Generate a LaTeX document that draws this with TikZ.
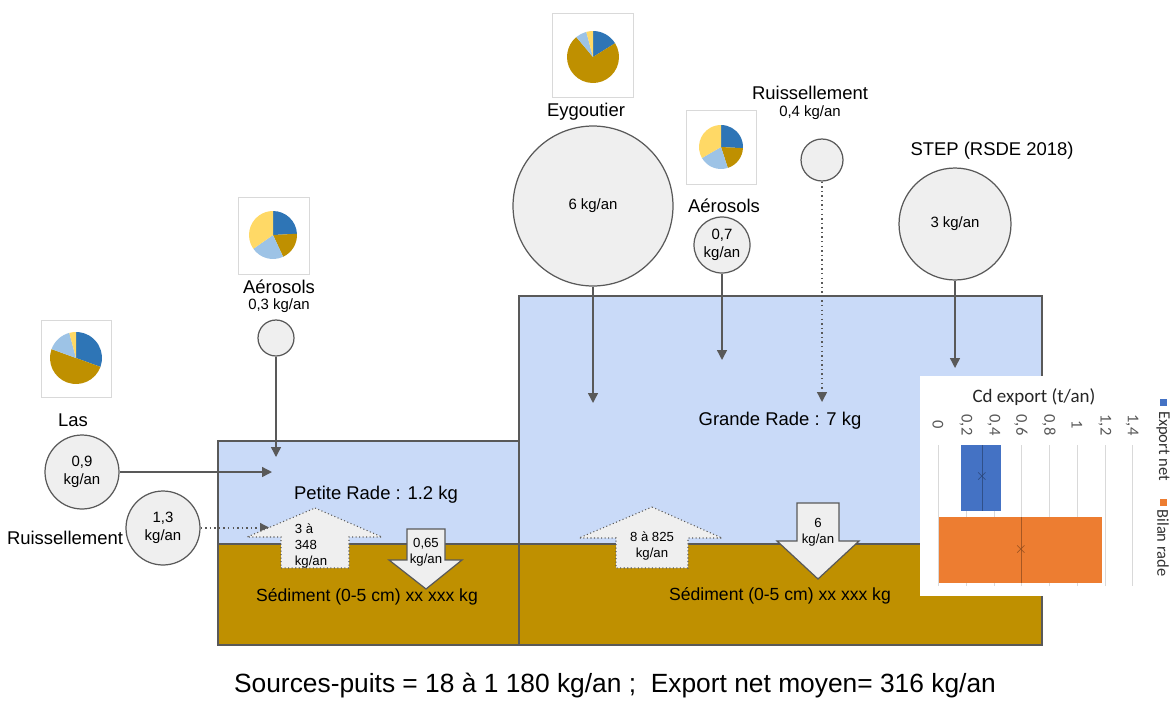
\documentclass[tikz,border=0pt]{standalone}
\usepackage{fontspec}
\setmainfont{Liberation Sans}
\newfontfamily\chartfont{Carlito}
\usetikzlibrary{arrows.meta, positioning}
\definecolor{mWater}{HTML}{C9DAF8}
\definecolor{mSediment}{HTML}{BF9000}
\definecolor{mBubble}{HTML}{EFEFEF}
\definecolor{mLine}{HTML}{595959}
\definecolor{mFrame}{HTML}{D9D9D9}
\definecolor{mPieBlue}{HTML}{2E75B6}
\definecolor{mPieLight}{HTML}{9DC3E6}
\definecolor{mPieYellow}{HTML}{FFD966}
\definecolor{mBarBlue}{HTML}{4472C4}
\definecolor{mBarOrange}{HTML}{ED7D31}
\definecolor{mGrid}{HTML}{D9D9D9}

% pie: centre, radius (cm), then the clockwise limits of the blue, gold and light slices
\newcommand{\drawpie}[5]{%
  \begin{scope}[shift={#1}]
    \fill[mPieBlue]   (0,0) -- (90:#2cm) arc[start angle=90, end angle=#3, radius=#2cm] -- cycle;
    \fill[mSediment]  (0,0) -- (#3:#2cm) arc[start angle=#3, end angle=#4, radius=#2cm] -- cycle;
    \fill[mPieLight]  (0,0) -- (#4:#2cm) arc[start angle=#4, end angle=#5, radius=#2cm] -- cycle;
    \fill[mPieYellow] (0,0) -- (#5:#2cm) arc[start angle=#5, end angle=-270, radius=#2cm] -- cycle;
  \end{scope}}

\tikzset{
  lab/.style={font=\fontsize{10.5}{12.5}\selectfont},
  sublab/.style={font=\fontsize{8.5}{10}\selectfont},
  bubble/.style={circle, draw=mLine, fill=mBubble, line width=0.7pt, inner sep=0pt,
    align=center, font=\fontsize{8.5}{10}\selectfont},
  flow/.style={draw=mLine, line width=0.8pt, -{Triangle[length=2mm,width=2mm]}},
  dotflow/.style={flow, dash pattern=on 0.8pt off 1.8pt},
  blockup/.style={fill=mBubble, draw=mLine, line width=0.6pt, dash pattern=on 0.6pt off 1.4pt},
  blockdown/.style={fill=mBubble, draw=mLine, line width=0.7pt},
  blocktext/.style={align=center, inner sep=0pt, font=\fontsize{7.5}{9}\selectfont},
  pieframe/.style={draw=mFrame, fill=white, line width=0.5pt},
  axislab/.style={rotate=-90, text=mLine, font=\chartfont\fontsize{9.4}{11}\selectfont}
}

\begin{document}
\begin{tikzpicture}[x=0.02cm, y=-0.02cm]
  \useasboundingbox (0,0) rectangle (1172,700);

  % water and sediment
  \fill[mWater]    (218,441) rectangle (519,544);
  \fill[mWater]    (519,296) rectangle (1042,544);
  \fill[mSediment] (218,544) rectangle (1042,645);
  \draw[mLine, line width=0.6pt] (218,544) -- (1042,544);
  \draw[mLine, line width=0.8pt] (218,441) rectangle (519,645);
  \draw[mLine, line width=0.8pt] (519,296) rectangle (1042,645);

  % pies
  \draw[pieframe] (41,320) rectangle (111,397);
  \drawpie{(76,358)}{0.52}{-20}{-200}{-255}
  \draw[pieframe] (238,197) rectangle (309,274);
  \drawpie{(273,235)}{0.48}{3}{-65}{-145}
  \draw[pieframe] (552,13) rectangle (633,97);
  \drawpie{(593,57)}{0.52}{32}{-230}{-255}
  \draw[pieframe] (686,110) rectangle (756,184);
  \drawpie{(721,147)}{0.44}{-3}{-72}{-150}

  % sources
  \node[lab] (laslab) at (73,420) {Las};
  \node[bubble, minimum size=1.48cm] (las) at (82,472) {0,9\\kg/an};
  \node[lab] (ruislab) at (65,538) {Ruissellement};
  \node[bubble, minimum size=1.48cm] (ruis) at (163,528) {1,3\\kg/an};
  \node[lab] (aerolab) at (279,287) {Aérosols};
  \node[sublab] (aerosub) at (279,306) {0,3 kg/an};
  \node[bubble, minimum size=0.72cm] (aero) at (276,338) {};
  \node[lab] (eyglab) at (586,112) {Eygoutier};
  \node[bubble, minimum size=3.2cm] (eyg) at (593,206) {6 kg/an};
  \node[lab] (aerglab) at (724,206) {Aérosols};
  \node[bubble, minimum size=1.12cm] (aerg) at (722,245) {0,7\\kg/an};
  \node[lab] (ruisglab) at (810,93) {Ruissellement};
  \node[sublab] (ruisgsub) at (810,113) {0,4 kg/an};
  \node[bubble, minimum size=0.84cm] (ruisg) at (822,160) {};
  \node[lab] (steplab) at (992,151) {STEP (RSDE 2018)};
  \node[bubble, minimum size=2.24cm] (step) at (955,224) {3 kg/an};

  % inputs
  \coordinate (lasin)   at (272,472);
  \coordinate (ruisin)  at (270,528);
  \coordinate (aeroin)  at (276,457);
  \coordinate (eygin)   at (593,403);
  \coordinate (aergin)  at (722,360);
  \coordinate (ruisgin) at (822,402);
  \coordinate (stepin)  at (955,368);
  \draw[flow] (las) -- (lasin);
  \draw[dotflow] (ruis) -- (ruisin);
  \draw[flow] (aero) -- (aeroin);
  \draw[flow] (eyg) -- (eygin);
  \draw[flow] (aerg) -- (aergin);
  \draw[dotflow] (ruisg) -- (ruisgin);
  \draw[flow] (step) -- (stepin);

  % exchanges with the sediment
  \draw[blockup] (315,508) -- (382,537) -- (349,537) -- (349,568) -- (281,568) -- (281,537) -- (247,537) -- cycle;
  \node[blocktext, align=left] (petup) at (311,546) {3 à\\348\\kg/an};
  \draw[blockdown] (407,529) -- (445,529) -- (445,560) -- (462,560) -- (426,589) -- (389,560) -- (407,560) -- cycle;
  \node[blocktext] (petdown) at (426,552) {0,65\\kg/an};
  \draw[blockup] (652,507) -- (722,538) -- (688,538) -- (688,568) -- (616,568) -- (616,538) -- (579,538) -- cycle;
  \node[blocktext] (grup) at (652,546) {8 à 825\\kg/an};
  \draw[blockdown] (797,503) -- (839,503) -- (839,541) -- (859,541) -- (818,579) -- (777,541) -- (797,541) -- cycle;
  \node[blocktext] (grdown) at (818,532) {6\\kg/an};

  % compartments
  \node[lab] (petite) at (376,495) {Petite Rade : 1.2 kg};
  \node[lab, font=\fontsize{10}{12}\selectfont] (petsed) at (367,597) {Sédiment (0-5 cm) xx xxx kg};
  \node[lab] (grande) at (780,421) {Grande Rade : 7 kg};
  \node[lab, font=\fontsize{10}{12}\selectfont] (grsed) at (780,596) {Sédiment (0-5 cm) xx xxx kg};

  % export chart
  \fill[white] (920,376) rectangle (1172,596);
  \node[font=\chartfont\fontsize{10.8}{12}\selectfont, text=black!85] (ctitle) at (1034,397) {Cd export (t/an)};
  \foreach \gx/\lab in {938/0, 966/{0,2}, 994/{0,4}, 1021/{0,6}, 1049/{0,8}, 1077/1, 1105/{1,2}, 1132/{1,4}} {
    \draw[mGrid, line width=0.5pt] (\gx,445) -- (\gx,586);
    \node[axislab] (tick\gx) at (\gx,425) {\lab};
  }
  \fill[mBarBlue] (961,445) rectangle (1001,511);
  \draw[mBarBlue!70!black, line width=0.5pt] (982,445) -- (982,511);
  \node[text=mBarBlue!60!black, font=\fontsize{9}{9}\selectfont, inner sep=0pt] (meanblue) at (982,477) {$\times$};
  \fill[mBarOrange] (939,517) rectangle (1102,583);
  \draw[mBarOrange!70!black, line width=0.5pt] (1021,517) -- (1021,583);
  \node[text=mBarOrange!60!black, font=\fontsize{9}{9}\selectfont, inner sep=0pt] (meanorange) at (1021,550) {$\times$};
  \fill[mBarBlue] (1160,399) rectangle (1167,406);
  \node[axislab, text=black!80] (legexport) at (1163,446) {Export net};
  \fill[mBarOrange] (1160,499) rectangle (1167,506);
  \node[axislab, text=black!80] (legbilan) at (1163,543) {Bilan rade};

  % summary
  \node[font=\fontsize{15}{18}\selectfont] (summary) at (615,686) {Sources-puits = 18 à 1 180 kg/an ;~ Export net moyen= 316 kg/an};
\end{tikzpicture}
\end{document}
